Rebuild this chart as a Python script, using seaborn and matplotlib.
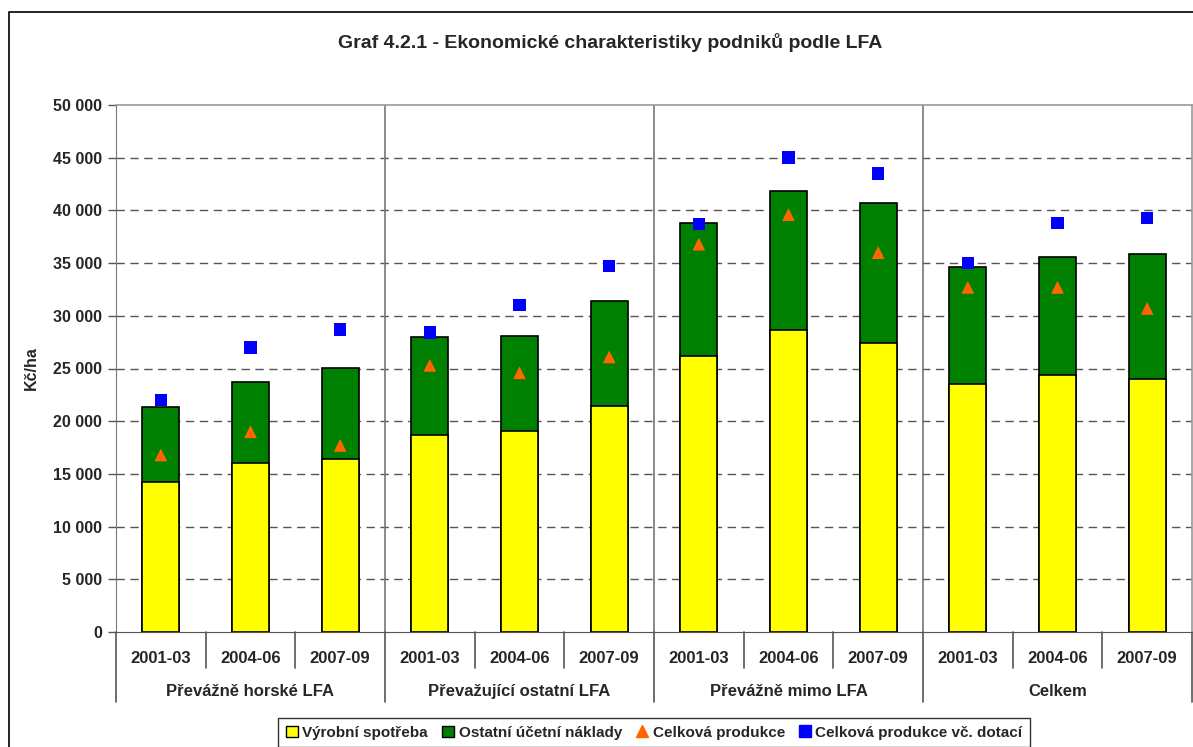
import numpy as np
import pandas as pd
import matplotlib
matplotlib.use("Agg")
import matplotlib.pyplot as plt
import seaborn as sns
from matplotlib.patches import Patch, Rectangle
from matplotlib.lines import Line2D
from matplotlib.ticker import FuncFormatter

# %% Data (Kč/ha)
groups = ["Převážně horské LFA", "Převažující ostatní LFA", "Převážně mimo LFA", "Celkem"]
periods = ["2001-03", "2004-06", "2007-09"]
vyrobni_spotreba = [14200, 16000, 16400, 18700, 19100, 21400, 26200, 28700, 27400, 23500, 24400, 24000]
ostatni_naklady = [7100, 7700, 8650, 9300, 9000, 10000, 12650, 13100, 13300, 11150, 11200, 11900]
celkova_produkce = [16800, 19000, 17700, 25300, 24600, 26100, 36800, 39600, 36000, 32700, 32700, 30700]
produkce_dotace = [22000, 27000, 28700, 28400, 31000, 34700, 38700, 45000, 43500, 35000, 38800, 39300]

df = pd.DataFrame({
    "pos": np.arange(len(vyrobni_spotreba)),
    "vyrobni": vyrobni_spotreba,
    "ostatni": ostatni_naklady,
    "produkce": celkova_produkce,
    "dotace": produkce_dotace,
})
df["celkem"] = df["vyrobni"] + df["ostatni"]

# %% Style
sns.set_style("white")
plt.rcParams["font.family"] = ["Liberation Sans", "DejaVu Sans"]
plt.rcParams["font.weight"] = "bold"

YELLOW, GREEN, ORANGE, BLUE = "#FFFF00", "#008000", "#FF6600", "#0000FF"

fig = plt.figure(figsize=(11.93, 7.47), dpi=100)
ax = fig.add_axes([116 / 1193, 1 - 632 / 747, 1076 / 1193, 527 / 747])

# outer chart border
fig.patches.append(Rectangle((9 / 1193, -0.1), 1.2, 1 - 12 / 747 + 0.1, transform=fig.transFigure,
                             fill=False, edgecolor="black", linewidth=1.2))

# stacked bars: total (green) then yellow part on top of it
sns.barplot(data=df, x="pos", y="celkem", color=GREEN, saturation=1, width=0.41,
            edgecolor="black", linewidth=1.2, ax=ax, zorder=3)
sns.barplot(data=df, x="pos", y="vyrobni", color=YELLOW, saturation=1, width=0.41,
            edgecolor="black", linewidth=1.2, ax=ax, zorder=4)

sns.scatterplot(data=df, x="pos", y="produkce", marker="^", color=ORANGE, s=85,
                edgecolor="none", ax=ax, zorder=5, legend=False)
sns.scatterplot(data=df, x="pos", y="dotace", marker="s", color=BLUE, s=80,
                edgecolor="none", ax=ax, zorder=5, legend=False)

# axes
ax.set_xlim(-0.5, len(df) - 0.5)
ax.set_ylim(0, 50000)
ax.set_yticks(np.arange(0, 50001, 5000))
ax.yaxis.set_major_formatter(FuncFormatter(lambda v, _: f"{int(v):,}".replace(",", " ")))
ax.tick_params(axis="y", labelsize=11.5, length=6, width=1, color="#555555", direction="out", left=True, pad=4)
ax.set_ylabel("Kč/ha", fontsize=11.5, fontweight="bold")
ax.yaxis.set_label_coords((39 - 116) / 1076, 0.5)
ax.set_xlabel("")
ax.set_xticks([])

ax.grid(False)
for y in np.arange(5000, 50000, 5000):
    ax.axhline(y, color="#555555", linestyle=(0, (6, 4)), linewidth=1, zorder=1)
for x in [2.5, 5.5, 8.5]:
    ax.axvline(x, color="#777777", linewidth=1.2, zorder=2)

for side in ["top", "right"]:
    ax.spines[side].set_color("#999999")
    ax.spines[side].set_linewidth(1.2)
ax.spines["left"].set_color("#777777")
ax.spines["bottom"].set_color("#555555")
for s in ax.spines.values():
    s.set_visible(True)

# category axis labels (two levels)
trans = ax.get_xaxis_transform()
for i in range(len(df)):
    ax.text(i, -0.0494, periods[i % 3], transform=trans, ha="center", va="center",
            fontsize=12, fontweight="bold")
for g, name in enumerate(groups):
    ax.text(g * 3 + 1, -0.112, name, transform=trans, ha="center", va="center",
            fontsize=12, fontweight="bold")
for x in np.arange(-0.5, len(df), 1.0):
    end = -0.133 if (x + 0.5) % 3 == 0 else -0.0683
    ax.plot([x, x], [0, end], transform=trans, color="#555555", linewidth=1.2, clip_on=False)

fig.text(610 / 1193, 1 - 43 / 747, "Graf 4.2.1 - Ekonomické charakteristiky podniků podle LFA",
         fontsize=14, fontweight="bold", ha="center", va="center")

handles = [
    Patch(facecolor=YELLOW, edgecolor="black", linewidth=1, label="Výrobní spotřeba"),
    Patch(facecolor=GREEN, edgecolor="black", linewidth=1, label="Ostatní účetní náklady"),
    Line2D([], [], marker="^", color=ORANGE, linestyle="none", markersize=9, label="Celková produkce"),
    Line2D([], [], marker="s", color=BLUE, linestyle="none", markersize=9, label="Celková produkce vč. dotací"),
]
leg = fig.legend(handles=handles, loc="upper center", bbox_to_anchor=(654 / 1193, 1 - 718 / 747),
                 ncol=4, frameon=True, fancybox=False, edgecolor="black", fontsize=11,
                 handlelength=0.8, handleheight=0.8, handletextpad=0.3, columnspacing=0.9,
                 borderpad=0.5, borderaxespad=0)
leg.get_frame().set_linewidth(1)

fig.savefig("out.png", dpi=100)
